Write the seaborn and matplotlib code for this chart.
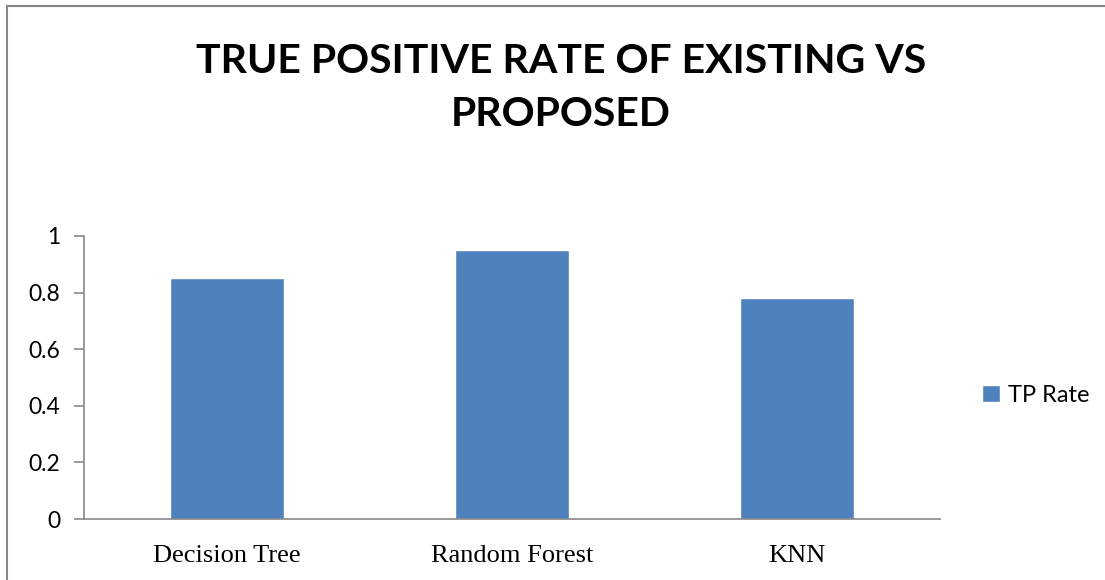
import matplotlib
matplotlib.use("Agg")
import matplotlib.pyplot as plt
import seaborn as sns
import pandas as pd
from matplotlib.patches import Rectangle

categories = ["Decision Tree", "Random Forest", "KNN"]
tp_rate = [0.85, 0.95, 0.78]
series_name = "TP Rate"
yticks = [0, 0.2, 0.4, 0.6, 0.8, 1]
ytick_labels = ["0", "0.2", "0.4", "0.6", "0.8", "1"]
title = "TRUE POSITIVE RATE OF EXISTING VS\nPROPOSED"

sns.set_style("white")
plt.rcParams['font.family'] = ['Lato', 'DejaVu Sans']
plt.rcParams['text.color'] = 'black'

df = pd.DataFrame({"Model": categories, "Rate": tp_rate})

fig = plt.figure(figsize=(11.05, 5.8), dpi=100)
ax = fig.add_axes([84/1105, 1-519/580, (940-84)/1105, (519-236)/580])

bar_color = "#4F81BD"
grey = "#878787"
sns.barplot(data=df, x="Model", y="Rate", color=bar_color, width=0.4,
            saturation=1, ax=ax, label=series_name)

ax.set_xlim(-0.5, 2.5)
ax.set_ylim(0, 1)
ax.set_xlabel("")
ax.set_ylabel("")
ax.set_yticks(yticks)
ax.set_yticklabels(ytick_labels, fontsize=16.5, color="black")
ax.set_xticks(range(len(categories)))
ax.set_xticklabels(categories, fontsize=19, family=["Liberation Serif"], color="black")
ax.tick_params(axis="x", which="major", length=0, pad=19)
ax.set_xticks([-0.5, 0.5, 1.5, 2.5], minor=True)
ax.tick_params(axis="x", which="minor", length=7, width=1.2, color=grey, direction="out")
ax.tick_params(axis="y", which="major", left=True, length=7, width=1.2, color=grey, direction="out", pad=10)

for s in ["top", "right"]:
    ax.spines[s].set_visible(False)
for s in ["left", "bottom"]:
    ax.spines[s].set_color(grey)
    ax.spines[s].set_linewidth(1.2)

fig.text(561/1105, 1-88/580, title, ha="center", va="center", fontsize=29.5,
         fontweight="bold", linespacing=1.55, color="black")

leg = ax.legend(loc="center left", bbox_to_anchor=(982/1105, 1-395/580),
                bbox_transform=fig.transFigure, frameon=False, fontsize=17,
                handlelength=0.75, handleheight=0.75, handletextpad=0.35,
                borderpad=0, borderaxespad=0)
for t in leg.get_texts():
    t.set_color("black")

fig.patches.append(Rectangle((7/1105, -0.05), 1.1, 1-6/580+0.05, transform=fig.transFigure,
                             fill=False, edgecolor=grey, linewidth=1.5, clip_on=False))

fig.savefig("out.png", dpi=100)
